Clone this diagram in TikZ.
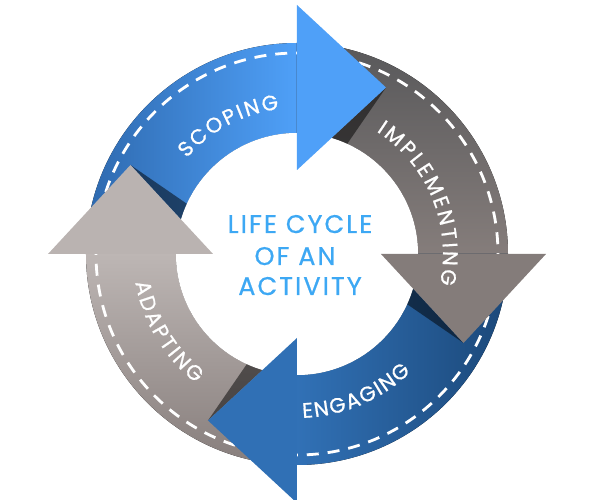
\documentclass[tikz,border=0pt]{standalone}
\usepackage{fontspec}
\setmainfont{Poppins}
\newfontfamily\arcfam[FakeBold=0.8, LetterSpace=4]{Poppins}
\newfontfamily\ctrfam[FakeBold=0.6, LetterSpace=8]{Poppins}
\usetikzlibrary{decorations.text}
\definecolor{scopeA}{HTML}{2E69AE}
\definecolor{scopeB}{HTML}{4FA0F8}
\definecolor{implA}{HTML}{58585A}
\definecolor{implB}{HTML}{857D7B}
\definecolor{implH}{HTML}{847C7A}
\definecolor{engA}{HTML}{3171B6}
\definecolor{engB}{HTML}{1B4879}
\definecolor{engH}{HTML}{3070B5}
\definecolor{adaA}{HTML}{BDB6B4}
\definecolor{adaB}{HTML}{877E7C}
\definecolor{adaH}{HTML}{BAB3B1}
\definecolor{ctext}{HTML}{3DA8F4}
\newcommand{\arcfnt}{\arcfam\fontsize{21}{21}\selectfont}
\begin{document}
\begin{tikzpicture}[x=1pt,y=1pt,
  dashline/.style={white, line width=2.8pt, dash pattern=on 12pt off 9pt},
  shadowwedge/.style={fill=black, opacity=0.5},
  ctr/.style={text=ctext, font=\ctrfam\fontsize{25.5}{25.5}\selectfont, anchor=base, inner sep=0pt}
]
\useasboundingbox (-297,-246) rectangle (303,254);
% shafts
\fill[left color=scopeA, right color=scopeB] (180:211) arc[start angle=180,end angle=90,radius=211] -- (90:121) arc[start angle=90,end angle=180,radius=121] -- cycle;
\fill[top color=implA, bottom color=implB] (90:211) arc[start angle=90,end angle=0,radius=211] -- (0:121) arc[start angle=0,end angle=90,radius=121] -- cycle;
\fill[left color=engA, right color=engB] (0:211) arc[start angle=0,end angle=-90,radius=211] -- (-90:121) arc[start angle=-90,end angle=0,radius=121] -- cycle;
\fill[top color=adaA, bottom color=adaB] (-90:211) arc[start angle=-90,end angle=-180,radius=211] -- (-180:121) arc[start angle=-180,end angle=-90,radius=121] -- cycle;
% dashed lines
\draw[dashline] (180:201) arc[start angle=180,end angle=90,radius=201];
\draw[dashline] (90:201) arc[start angle=90,end angle=0,radius=201];
\draw[dashline] (0:201) arc[start angle=0,end angle=-90,radius=201];
\draw[dashline] (-90:201) arc[start angle=-90,end angle=-180,radius=201];
% shadows
\foreach \a in {0,-90,-180,-270}{
  \begin{scope}[rotate=\a]
    \fill[shadowwedge] (89,166.5) -- (65.5:121) -- (0,84) -- cycle;
  \end{scope}
}
\fill[white] (0,0) circle[radius=121];
% arrowheads
\fill[scopeB] (0,84) -- (0,249) -- (89,166.5) -- cycle;
\begin{scope}[rotate=-90]
  \fill[implH] (0,84) -- (0,249) -- (89,166.5) -- cycle;
\end{scope}
\begin{scope}[rotate=-180]
  \fill[engH] (0,84) -- (0,249) -- (89,166.5) -- cycle;
\end{scope}
\begin{scope}[rotate=-270]
  \fill[adaH] (0,84) -- (0,249) -- (89,166.5) -- cycle;
\end{scope}
% arc labels
\path[decorate, decoration={text along path, text={|\arcfnt|SCOPING}, text align={fit to path}, text color=white}] (139:146) arc[start angle=139,end angle=97,radius=146];
\path[decorate, decoration={text along path, text={|\arcfnt|IMPLEMENTING}, text align={fit to path}, text color=white}] (57:146) arc[start angle=57,end angle=-12,radius=146];
\path[decorate, decoration={text along path, text={|\arcfnt|ENGAGING}, text align={fit to path}, text color=white}] (-88:164) arc[start angle=-88,end angle=-46,radius=164];
\path[decorate, decoration={text along path, text={|\arcfnt|ADAPTING}, text align={fit to path}, text color=white}] (190:164) arc[start angle=190,end angle=232,radius=164];
% centre
\node[ctr] (l1) at (3,21) {LIFE CYCLE};
\node[ctr] (l2) at (-2,-11) {OF AN};
\node[ctr] (l3) at (3,-41) {ACTIVITY};
\end{tikzpicture}
\end{document}
